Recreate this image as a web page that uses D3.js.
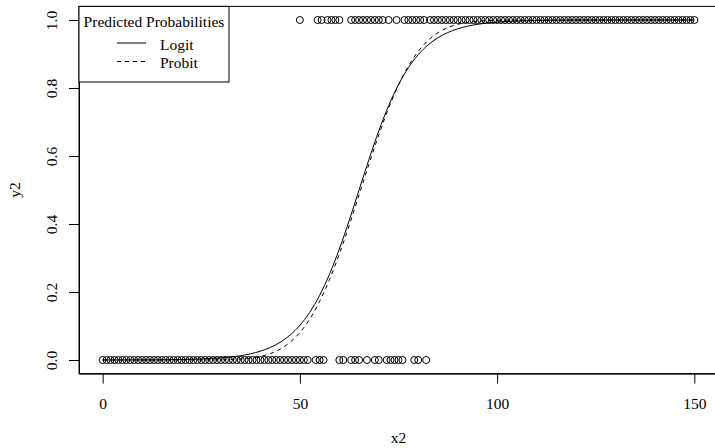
<!DOCTYPE html>
<html>
<head>
<meta charset="utf-8">
<script src="https://cdn.jsdelivr.net/npm/d3@7"></script>
<style>
  html, body { margin: 0; padding: 0; background: #fff; }
  svg { display: block; font-family: "Liberation Serif", "Times New Roman", serif; }
</style>
</head>
<body>
<svg id="chart" width="715" height="448"></svg>
<script>
// ---- data ----
const xTicks = [0, 50, 100, 150];
const yTicks = [0, 0.2, 0.4, 0.6, 0.8, 1.0];
const yTickLabels = ["0.0", "0.2", "0.4", "0.6", "0.8", "1.0"];

// observations with y2 = 0
const x2Zero = [0,1,2,3,4,5,6,7,8,9,10,11,12,13,14,15,16,17,18,19,20,21,22,23,24,25,26,27,28,29,30,
  31,32,33,34,35,36,37,38,39,40,41,42,43,44,45,46,47,48,49,50,51,52,
  54,55,56,60,61,63,64,65,67,69,70,72,73,74,75,76,79,80,82];
// observations with y2 = 1
const x2One = [50,54.5,55.5,57,58,59,60,63,64,65,66,67,68,69,70,71,72.5,74.5,76.5,77.5,78.5,79.5,80.5,81.5,
  83,84,85,86,87,88,89,90,91,92,93,94,95,96,97,98,99,100,101,102,103,104,105,106,107,108,109,110,
  111,112,113,114,115,116,117,118,119,120,121,122,123,124,125,126,127,128,129,130,
  131,132,133,134,135,136,137,138,139,140,141,142,143,144,145,146,147,148,149,150];

// predicted probability curves
const curveX     = [0, 10, 20, 25, 30, 35, 40, 42.5, 45, 47.5, 50, 52.5, 55, 57.5, 60, 62.5, 65, 67.5, 70, 72.5, 75, 77.5, 80, 82.5, 85, 87.5, 90, 95, 100, 105, 110, 120, 130, 140, 150];
const logitProb  = [0.0001, 0.0003, 0.0015, 0.003, 0.0062, 0.0127, 0.026, 0.0369, 0.0522, 0.0732, 0.102, 0.1403, 0.19, 0.2521, 0.3263, 0.4104, 0.5, 0.5896, 0.6737, 0.7479, 0.81, 0.8597, 0.898, 0.9268, 0.9478, 0.9631, 0.974, 0.9873, 0.9938, 0.997, 0.9985, 0.9997, 0.9999, 1, 1];
const probitProb = [0, 0, 0, 0.0001, 0.0007, 0.0029, 0.0105, 0.0187, 0.0318, 0.0519, 0.0808, 0.1204, 0.1723, 0.2363, 0.3117, 0.3959, 0.4856, 0.5757, 0.662, 0.7406, 0.8087, 0.8643, 0.9078, 0.94, 0.9626, 0.9777, 0.9873, 0.9964, 0.9992, 0.9998, 1, 1, 1, 1, 1];

const legendTitle = "Predicted Probabilities";
const legendLabels = ["Logit", "Probit"];

// ---- layout ----
const svg = d3.select("#chart");
const plot = { left: 79, right: 718, top: 6.4, bottom: 373.6 };
const FS = 15.5;

const x = d3.scaleLinear().domain([-6, 156]).range([plot.left, plot.right]);
const y = d3.scaleLinear().domain([-0.04, 1.04]).range([plot.bottom, plot.top]);

svg.append("defs").append("clipPath").attr("id", "clip")
  .append("rect")
  .attr("x", plot.left).attr("y", plot.top)
  .attr("width", plot.right - plot.left).attr("height", plot.bottom - plot.top);

// points
const pts = svg.append("g").attr("fill", "none").attr("stroke", "#000").attr("stroke-width", 1);
pts.selectAll("circle.z").data(x2Zero).join("circle")
  .attr("class", "z").attr("cx", d => x(d)).attr("cy", y(0)).attr("r", 3.5);
pts.selectAll("circle.o").data(x2One).join("circle")
  .attr("class", "o").attr("cx", d => x(d)).attr("cy", y(1)).attr("r", 3.5);

// curves
const lineGen = vals => d3.line()
  .x((d, i) => x(curveX[i]))
  .y((d) => y(d))
  .curve(d3.curveMonotoneX)(vals);

const curves = svg.append("g").attr("clip-path", "url(#clip)").attr("fill", "none").attr("stroke", "#000").attr("stroke-width", 1);
curves.append("path").attr("d", lineGen(logitProb));
curves.append("path").attr("d", lineGen(probitProb)).attr("stroke-dasharray", "4,4");

// box
svg.append("rect")
  .attr("x", plot.left).attr("y", plot.top)
  .attr("width", plot.right - plot.left).attr("height", plot.bottom - plot.top)
  .attr("fill", "none").attr("stroke", "#000").attr("stroke-width", 1);

// x axis
const gx = svg.append("g").attr("transform", `translate(0,${plot.bottom})`)
  .call(d3.axisBottom(x).tickValues(xTicks).tickSizeInner(10).tickSizeOuter(0).tickFormat(d3.format("d")));
gx.selectAll("path.domain").attr("stroke", "#000");
gx.selectAll(".tick line").attr("stroke", "#000");
gx.selectAll(".tick text").attr("y", 35.5).attr("dy", null)
  .attr("font-size", FS).attr("font-family", "Liberation Serif, Times New Roman, serif").attr("fill", "#000");

// y axis
const gy = svg.append("g").attr("transform", `translate(${plot.left},0)`)
  .call(d3.axisLeft(y).tickValues(yTicks).tickSizeInner(10).tickSizeOuter(0).tickFormat((d, i) => yTickLabels[i]));
gy.selectAll("path.domain").attr("stroke", "#000");
gy.selectAll(".tick line").attr("stroke", "#000");
gy.selectAll(".tick text")
  .attr("x", null).attr("dy", null)
  .attr("transform", "translate(-22,0) rotate(-90)")
  .attr("text-anchor", "middle")
  .attr("font-size", FS).attr("font-family", "Liberation Serif, Times New Roman, serif").attr("fill", "#000");

// axis titles
svg.append("text").attr("x", (plot.left + plot.right) / 2).attr("y", 443)
  .attr("text-anchor", "middle").attr("font-size", FS).text("x2");
svg.append("text").attr("transform", `translate(20,${(plot.top + plot.bottom) / 2}) rotate(-90)`)
  .attr("text-anchor", "middle").attr("font-size", FS).text("y2");

// legend
const lg = svg.append("g");
lg.append("rect").attr("x", 79).attr("y", plot.top).attr("width", 150).attr("height", 82 - plot.top)
  .attr("fill", "#fff").attr("stroke", "#000").attr("stroke-width", 1);
lg.append("text").attr("x", 154).attr("y", 26.7).attr("text-anchor", "middle")
  .attr("font-size", FS).text(legendTitle);
const rowY = [45, 63.5];
const rowBase = [49.5, 68.3];
legendLabels.forEach((lab, i) => {
  lg.append("line").attr("x1", 117).attr("x2", 146).attr("y1", rowY[i] - 2).attr("y2", rowY[i] - 2)
    .attr("stroke", "#000").attr("stroke-width", 1)
    .attr("stroke-dasharray", i === 1 ? "4,4" : null);
  lg.append("text").attr("x", 160).attr("y", rowBase[i]).attr("font-size", FS).text(lab);
});
</script>
</body>
</html>
